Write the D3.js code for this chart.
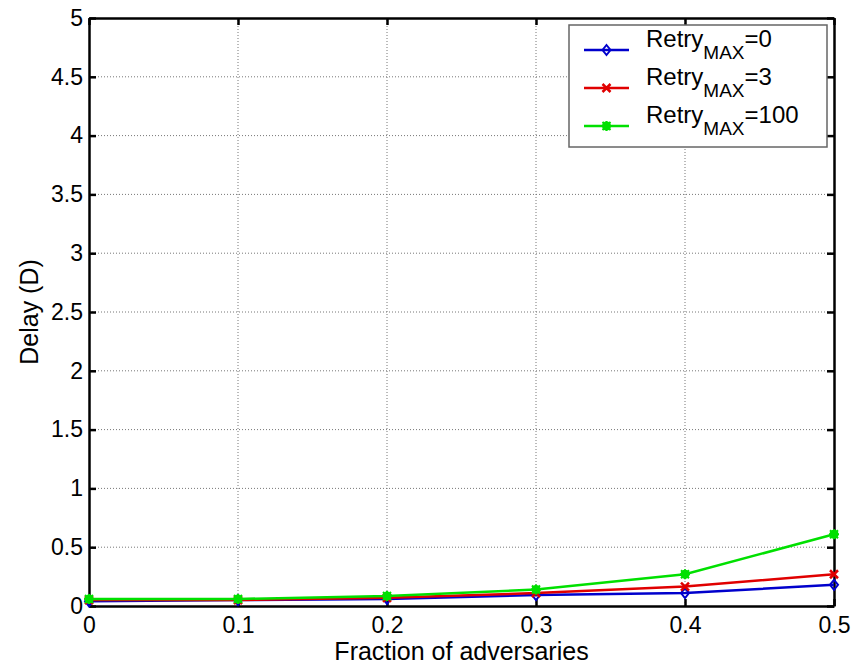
<!DOCTYPE html>
<html>
<head>
<meta charset="utf-8">
<script src="https://cdn.jsdelivr.net/npm/d3@7"></script>
<style>
  body { margin: 0; background: #fff; }
  svg { font-family: "Liberation Sans", Arial, sans-serif; }
</style>
</head>
<body>
<div id="chart"></div>
<script>
// values
const fractions = [0, 0.1, 0.2, 0.3, 0.4, 0.5];
const retry0 = [0.04, 0.05, 0.06, 0.093, 0.11, 0.18];
const retry3 = [0.05, 0.05, 0.07, 0.11, 0.165, 0.27];
const retry100 = [0.06, 0.06, 0.085, 0.14, 0.27, 0.61];
const xTicks = [0, 0.1, 0.2, 0.3, 0.4, 0.5];
const yTicks = [0, 0.5, 1, 1.5, 2, 2.5, 3, 3.5, 4, 4.5, 5];
const seriesNames = ["0", "3", "100"];
const seriesColors = ["#0000cc", "#e00000", "#00e000"];
const seriesMarkers = ["diamond", "cross", "star"];

const width = 860, height = 667;
const margins = { top: 18, right: 26, bottom: 61, left: 89 };

const svg = d3.select("#chart").append("svg")
  .attr("width", width)
  .attr("height", height);

const x = d3.scaleLinear().domain([0, 0.5])
  .range([margins.left, width - margins.right]);
const y = d3.scaleLinear().domain([0, 5])
  .range([height - margins.bottom, margins.top]);

// dotted grid
svg.append("g").selectAll("line")
  .data(xTicks.slice(1, -1))
  .join("line")
  .attr("x1", d => x(d)).attr("x2", d => x(d))
  .attr("y1", y(0)).attr("y2", y(5))
  .attr("stroke", "#777").attr("stroke-width", 1)
  .attr("stroke-dasharray", "1,2");

svg.append("g").selectAll("line")
  .data(yTicks.slice(1, -1))
  .join("line")
  .attr("x1", x(0)).attr("x2", x(0.5))
  .attr("y1", d => y(d)).attr("y2", d => y(d))
  .attr("stroke", "#777").attr("stroke-width", 1)
  .attr("stroke-dasharray", "1,2");

// axes, ticks pointing inward like matlab
const tickLen = 7;
const xAxisB = d3.axisBottom(x).tickValues(xTicks).tickSizeInner(-tickLen).tickSizeOuter(0)
  .tickPadding(11).tickFormat(d3.format("~g"));
const xAxisT = d3.axisTop(x).tickValues(xTicks).tickSizeInner(-tickLen).tickSizeOuter(0).tickFormat("");
const yAxisL = d3.axisLeft(y).tickValues(yTicks).tickSizeInner(-tickLen).tickSizeOuter(0)
  .tickPadding(6).tickFormat(d3.format("~g"));
const yAxisR = d3.axisRight(y).tickValues(yTicks).tickSizeInner(-tickLen).tickSizeOuter(0).tickFormat("");

const gB = svg.append("g").attr("transform", `translate(0,${y(0)})`).call(xAxisB);
const gT = svg.append("g").attr("transform", `translate(0,${y(5)})`).call(xAxisT);
const gL = svg.append("g").attr("transform", `translate(${x(0)},0)`).call(yAxisL);
const gR = svg.append("g").attr("transform", `translate(${x(0.5)},0)`).call(yAxisR);

[gB, gT, gL, gR].forEach(g => {
  g.select(".domain").attr("stroke", "#000").attr("stroke-width", 2.5);
  g.selectAll(".tick line").attr("stroke", "#000").attr("stroke-width", 2.5);
  g.selectAll("text").attr("fill", "#000").attr("font-size", 23)
    .attr("font-family", "Liberation Sans, Arial, sans-serif");
});
gB.selectAll(".tick text").attr("dy", "0.71em");

// axis titles
svg.append("text")
  .attr("x", (x(0) + x(0.5)) / 2)
  .attr("y", 660)
  .attr("text-anchor", "middle")
  .attr("font-size", 25)
  .text("Fraction of adversaries");

svg.append("text")
  .attr("transform", `translate(38,${(y(0) + y(5)) / 2}) rotate(-90)`)
  .attr("text-anchor", "middle")
  .attr("font-size", 25)
  .text("Delay (D)");

// series
const series = [retry0, retry3, retry100].map((vals, i) => ({
  name: seriesNames[i],
  color: seriesColors[i],
  marker: seriesMarkers[i],
  points: fractions.map((f, j) => ({ x: f, y: vals[j] }))
}));

const line = d3.line().x(d => x(d.x)).y(d => y(d.y));

function drawMarker(g, type, color) {
  if (type === "diamond") {
    g.append("path").attr("d", "M0,-5L4,0L0,5L-4,0Z")
      .attr("fill", "none").attr("stroke", color).attr("stroke-width", 2);
  } else if (type === "cross") {
    g.append("path").attr("d", "M-4,-4L4,4M-4,4L4,-4")
      .attr("stroke", color).attr("stroke-width", 2.5);
  } else {
    g.append("circle").attr("r", 4.5).attr("fill", color);
    g.append("path").attr("d", "M-5,0L5,0M0,-5L0,5M-4,-4L4,4M-4,4L4,-4")
      .attr("stroke", color).attr("stroke-width", 2);
  }
}

series.forEach(s => {
  svg.append("path")
    .datum(s.points)
    .attr("d", line)
    .attr("fill", "none")
    .attr("stroke", s.color)
    .attr("stroke-width", 2.5);
  s.points.forEach(p => {
    const g = svg.append("g").attr("transform", `translate(${x(p.x)},${y(p.y)})`);
    drawMarker(g, s.marker, s.color);
  });
});

// legend
const legend = svg.append("g").attr("transform", "translate(569,25)");
legend.append("rect")
  .attr("width", 258).attr("height", 122)
  .attr("fill", "#fff").attr("stroke", "#666").attr("stroke-width", 1.5);

series.forEach((s, i) => {
  const ly = 25 + i * 38;
  legend.append("line")
    .attr("x1", 15).attr("x2", 60).attr("y1", ly).attr("y2", ly)
    .attr("stroke", s.color).attr("stroke-width", 2.5);
  const g = legend.append("g").attr("transform", `translate(37.5,${ly})`);
  drawMarker(g, s.marker, s.color);
  const t = legend.append("text")
    .attr("x", 77).attr("y", ly - 3)
    .attr("font-size", 24);
  t.append("tspan").text("Retry");
  t.append("tspan").attr("dy", 12).attr("font-size", 19).text("MAX");
  t.append("tspan").attr("dy", -12).text("=" + s.name);
});
</script>
</body>
</html>
